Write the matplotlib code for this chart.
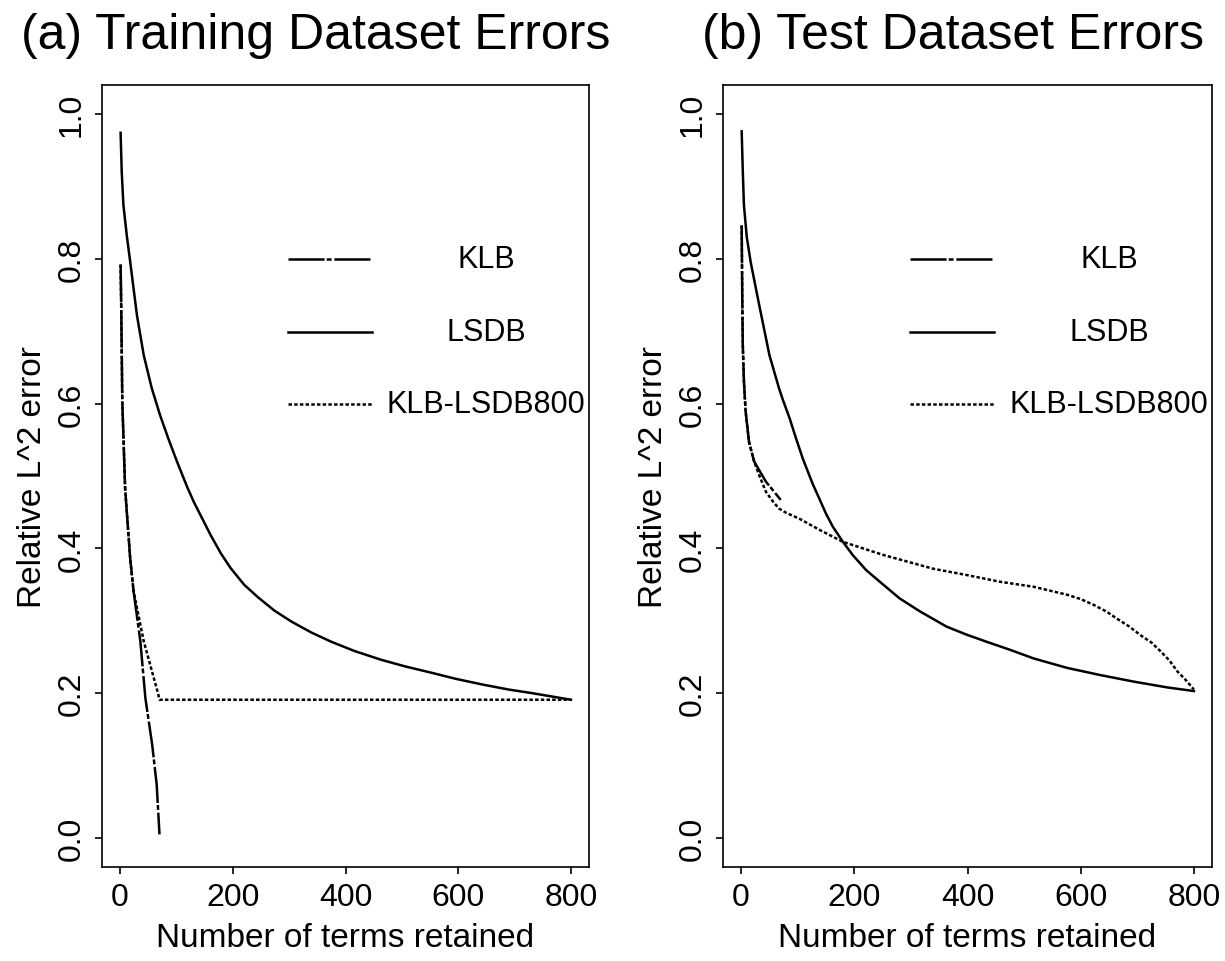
import matplotlib
matplotlib.use("Agg")
import matplotlib.pyplot as plt
from matplotlib.lines import Line2D

plt.rcParams['font.family'] = ['Liberation Sans', 'DejaVu Sans']
plt.rcParams['lines.scale_dashes'] = False

# ---- data ----
# (a) training set
train_lsdb_x = [1, 3, 6, 12, 18, 30, 42, 56, 71, 86, 101, 119, 131, 146, 161, 179, 196, 220,
                244, 274, 304, 339, 375, 417, 464, 506, 554, 595, 643, 690, 732, 800]
train_lsdb_y = [0.974, 0.92, 0.874, 0.832, 0.796, 0.722, 0.667, 0.622, 0.584, 0.551, 0.520,
                0.485, 0.464, 0.441, 0.418, 0.393, 0.373, 0.350, 0.333, 0.314, 0.299, 0.284,
                0.271, 0.258, 0.246, 0.237, 0.228, 0.220, 0.212, 0.205, 0.200, 0.191]

train_klb_x = [1, 2, 4, 9, 18, 24, 36, 45, 57, 65, 70]
train_klb_y = [0.792, 0.74, 0.603, 0.483, 0.386, 0.341, 0.272, 0.193, 0.129, 0.074, 0.005]

train_mix_x = [1, 2, 4, 9, 18, 24, 42, 68, 70, 800]
train_mix_y = [0.792, 0.74, 0.603, 0.483, 0.386, 0.341, 0.272, 0.198, 0.191, 0.191]

# (b) test set
test_lsdb_x = [1, 3, 5, 10, 17, 32, 50, 67, 73, 86, 97, 109, 126, 150, 162, 180, 197, 221,
               245, 280, 316, 363, 398, 434, 475, 517, 576, 635, 694, 753, 800]
test_lsdb_y = [0.976, 0.92, 0.874, 0.830, 0.795, 0.736, 0.667, 0.621, 0.607, 0.579, 0.552,
               0.524, 0.490, 0.448, 0.430, 0.409, 0.391, 0.370, 0.354, 0.331, 0.313, 0.292,
               0.281, 0.271, 0.260, 0.248, 0.235, 0.225, 0.216, 0.208, 0.203]

test_klb_x = [1, 2, 3, 5, 8, 14, 23, 29, 44, 70]
test_klb_y = [0.846, 0.75, 0.68, 0.63, 0.589, 0.547, 0.520, 0.512, 0.492, 0.467]

test_mix_x = [1, 2, 3, 5, 8, 14, 23, 32, 44, 56, 67, 80, 103, 140, 180, 251, 339, 400, 457,
              517, 576, 600, 623, 645, 664, 686, 706, 725, 741, 757, 771, 786, 800]
test_mix_y = [0.846, 0.75, 0.68, 0.63, 0.589, 0.547, 0.520, 0.501, 0.478, 0.465, 0.455,
              0.449, 0.441, 0.425, 0.409, 0.391, 0.372, 0.363, 0.354, 0.347, 0.336, 0.330,
              0.322, 0.313, 0.303, 0.292, 0.280, 0.270, 0.258, 0.245, 0.230, 0.218, 0.205]

series_names = ["KLB", "LSDB", "KLB-LSDB800"]
titles = ["(a) Training Dataset Errors", "(b) Test Dataset Errors"]
x_ticks = [0, 200, 400, 600, 800]
y_ticks = [0.0, 0.2, 0.4, 0.6, 0.8, 1.0]

# line styles (dash patterns in points)
LW = 1.8
styles = {
    "KLB": dict(color="black", lw=LW, dashes=(26, 1.5, 3.5, 2)),
    "LSDB": dict(color="black", lw=LW, linestyle="-"),
    "KLB-LSDB800": dict(color="black", lw=LW, dashes=(2.5, 1.6)),
}

fig = plt.figure(figsize=(12.25, 9.62), dpi=100)
ax1 = fig.add_axes([102 / 1225, 94 / 962, 487 / 1225, 782 / 962])
ax2 = fig.add_axes([723 / 1225, 94 / 962, 489 / 1225, 782 / 962])

panels = [
    (ax1, train_klb_x, train_klb_y, train_lsdb_x, train_lsdb_y, train_mix_x, train_mix_y),
    (ax2, test_klb_x, test_klb_y, test_lsdb_x, test_lsdb_y, test_mix_x, test_mix_y),
]

for i, (ax, kx, ky, lx, ly, mx, my) in enumerate(panels):
    ax.plot(kx, ky, **styles["KLB"])
    ax.plot(lx, ly, **styles["LSDB"])
    ax.plot(mx, my, **styles["KLB-LSDB800"])

    ax.set_xlim(-32, 832)
    ax.set_ylim(-0.04, 1.04)
    ax.set_xticks(x_ticks)
    ax.set_yticks(y_ticks)
    ax.set_yticklabels([f"{v:.1f}" for v in y_ticks], rotation=90, va="center")
    ax.tick_params(labelsize=23, length=5, width=1.2, direction="out", pad=6)
    for s in ax.spines.values():
        s.set_linewidth(1.2)
    ax.set_xlabel("Number of terms retained", fontsize=24, labelpad=7)
    ax.set_ylabel("Relative L^2 error", fontsize=24, labelpad=6)

    # legend: sample line on the left, label centred on the right
    for j, name in enumerate(series_names):
        yy = 0.777 - j * 0.0925
        ax.add_line(Line2D([0.382, 0.555], [yy, yy], transform=ax.transAxes, **styles[name]))
        ax.text(0.789, yy, name, transform=ax.transAxes, fontsize=22,
                ha="center", va="center")

fig.text(316 / 1225, 1 - 36 / 962, titles[0], fontsize=36, ha="center", va="center")
fig.text(953 / 1225, 1 - 36 / 962, titles[1], fontsize=36, ha="center", va="center")

fig.savefig("out.png", dpi=100)
